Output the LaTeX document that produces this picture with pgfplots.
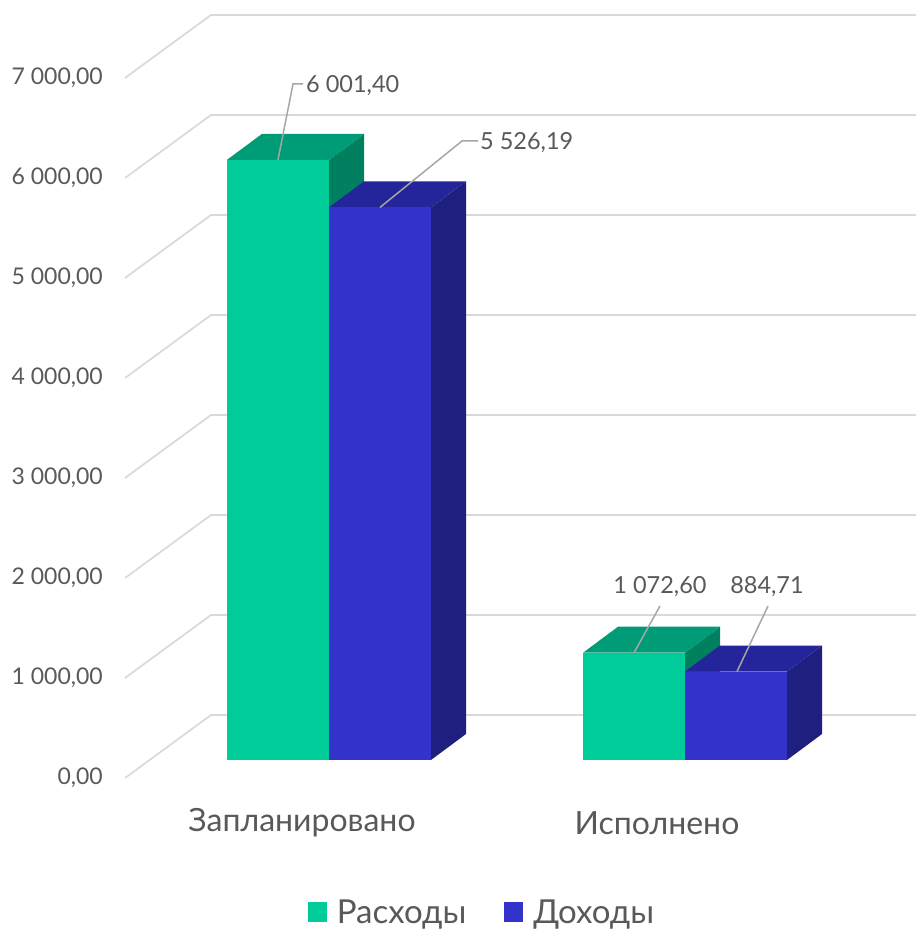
\documentclass[border=0pt]{standalone}
\usepackage{pgfplots}
\pgfplotsset{compat=1.18}
\usepackage{fontspec}
\setmainfont{Lato}
\definecolor{gfront}{HTML}{00CC99}
\definecolor{gtop}{HTML}{009B77}
\definecolor{gside}{HTML}{00805F}
\definecolor{bfront}{HTML}{3333CC}
\definecolor{btop}{HTML}{25259B}
\definecolor{bside}{HTML}{1F1F80}
\definecolor{txt}{HTML}{595959}
\definecolor{gridc}{HTML}{D9D9D9}
\definecolor{lead}{HTML}{A6A6A6}
% 3D bar: #1 left x of front face, #2 value, #3 front, #4 top, #5 side
\newcommand{\tdbar}[5]{%
  \pgfmathsetmacro{\xa}{#1}%
  \pgfmathsetmacro{\xb}{#1+102}%
  \pgfmathsetmacro{\xc}{#1+35}%
  \pgfmathsetmacro{\xd}{#1+137}%
  \pgfmathsetmacro{\yt}{#2+260}%
  \addplot[fill=#5,draw=none,forget plot] coordinates {(\xb,0) (\xd,260) (\xd,\yt) (\xb,#2)} -- cycle;
  \addplot[fill=#4,draw=none,forget plot] coordinates {(\xa,#2) (\xc,\yt) (\xd,\yt) (\xb,#2)} -- cycle;
  \addplot[fill=#3,draw=none,forget plot] coordinates {(\xa,0) (\xb,0) (\xb,#2) (\xa,#2)} -- cycle;
}
\newcommand{\gline}[1]{%
  \pgfmathsetmacro{\ga}{#1-180}%
  \pgfmathsetmacro{\gb}{#1+450}%
  \addplot[draw=gridc,line width=1.7pt,forget plot] coordinates {(125,\ga) (211,\gb) (916,\gb)};
}
\tikzset{tl/.style={anchor=east,text=txt,font=\fontsize{23}{28}\selectfont,inner sep=0pt},
         dl/.style={text=txt,font=\fontsize{23.5}{28}\selectfont,inner sep=1pt}}
\begin{document}
\begin{tikzpicture}
\begin{axis}[
  width=916pt,height=931pt,scale only axis,
  xmin=0,xmax=916,ymin=-1710,ymax=7600,
  hide axis,clip=false,
  legend style={at={(axis cs:482,-1520)},anchor=center,draw=none,fill=none,
    legend columns=2,font=\fontsize{33}{36}\selectfont,text=txt,
    /tikz/every odd column/.append style={column sep=8pt},
    /tikz/every even column/.append style={column sep=36pt}},
  legend image code/.code={\draw[#1,draw=none] (0pt,-9.5pt) rectangle (19pt,9.5pt);},
]
\path (rel axis cs:0,0) rectangle (rel axis cs:1,1);
\gline{0}
\gline{1000}
\gline{2000}
\gline{3000}
\gline{4000}
\gline{5000}
\gline{6000}
\gline{7000}
\node[tl] at (axis cs:103,-180) {0,00};
\node[tl] at (axis cs:103,820) {1 000,00};
\node[tl] at (axis cs:103,1820) {2 000,00};
\node[tl] at (axis cs:103,2820) {3 000,00};
\node[tl] at (axis cs:103,3820) {4 000,00};
\node[tl] at (axis cs:103,4820) {5 000,00};
\node[tl] at (axis cs:103,5820) {6 000,00};
\node[tl] at (axis cs:103,6820) {7 000,00};
% Запланировано
\tdbar{227}{6001.40}{gfront}{gtop}{gside}
\tdbar{329}{5526.19}{bfront}{btop}{bside}
% Исполнено
\tdbar{583}{1072.60}{gfront}{gtop}{gside}
\tdbar{685}{884.71}{bfront}{btop}{bside}
% leaders and data labels
\draw[lead,line width=1.5pt] (axis cs:278,6001.40) -- (axis cs:293,6760) -- (axis cs:303,6760);
\node[dl,anchor=west] at (axis cs:305,6740) {6 001,40};
\draw[lead,line width=1.5pt] (axis cs:380,5526.19) -- (axis cs:462,6190) -- (axis cs:478,6190);
\node[dl,anchor=west] at (axis cs:479,6170) {5 526,19};
\draw[lead,line width=1.5pt] (axis cs:634,1072.60) -- (axis cs:660,1540);
\node[dl] at (axis cs:660,1730) {1 072,60};
\draw[lead,line width=1.5pt] (axis cs:737,884.71) -- (axis cs:768,1540);
\node[dl] at (axis cs:767,1730) {884,71};
% category labels
\node[text=txt,font=\fontsize{32}{36}\selectfont] at (axis cs:302,-630) {Запланировано};
\node[text=txt,font=\fontsize{32}{36}\selectfont] at (axis cs:657,-630) {Исполнено};
\addlegendimage{fill=gfront}
\addlegendentry{Расходы}
\addlegendimage{fill=bfront}
\addlegendentry{Доходы}
\end{axis}
\end{tikzpicture}
\end{document}
